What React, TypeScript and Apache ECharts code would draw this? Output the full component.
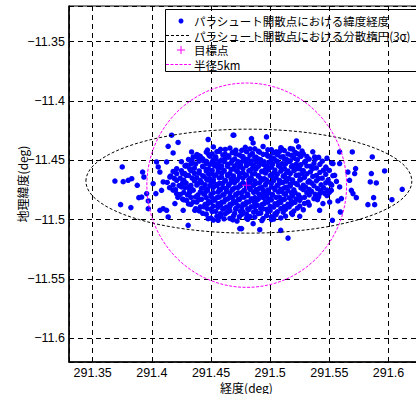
import { useEffect, useRef } from "react";
import * as echarts from "echarts";

// Axis ranges
const lonRange = [291.33, 291.63];
const latRange = [-11.62, -11.32];

// Legend labels
const legendLabels = [
  "パラシュート開散点における緯度経度",
  "パラシュート開散点における分散楕円(3σ)",
  "目標点",
  "半径5km",
];

// Dense core of parachute-opening points [lon, lat]
const corePoints: number[][] = [
  [291.452,-11.4388],[291.458,-11.4408],[291.466,-11.4397],[291.471,-11.4415],[291.479,-11.4391],[291.487,-11.4404],[291.494,-11.4384],[291.501,-11.4411],[291.509,-11.4394],[291.517,-11.4402],[291.524,-11.4387],
  [291.438,-11.4452],[291.446,-11.4431],[291.451,-11.4447],[291.457,-11.4426],[291.462,-11.4449],[291.468,-11.4435],[291.474,-11.4455],[291.480,-11.4428],[291.485,-11.4444],[291.491,-11.4432],[291.497,-11.4451],[291.503,-11.4437],[291.508,-11.4425],[291.515,-11.4448],[291.521,-11.4433],[291.528,-11.4446],[291.536,-11.4429],
  [291.431,-11.4493],[291.437,-11.4471],[291.443,-11.4488],[291.449,-11.4466],[291.454,-11.4484],[291.459,-11.4497],[291.465,-11.4474],[291.470,-11.4489],[291.476,-11.4468],[291.481,-11.4491],[291.487,-11.4477],[291.492,-11.4495],[291.498,-11.4465],[291.503,-11.4486],[291.509,-11.4472],[291.514,-11.4494],[291.520,-11.4479],[291.526,-11.4467],[291.533,-11.4490],[291.541,-11.4475],[291.548,-11.4483],
  [291.425,-11.4512],[291.433,-11.4531],[291.440,-11.4507],[291.446,-11.4526],[291.451,-11.4514],[291.456,-11.4535],[291.461,-11.4509],[291.467,-11.4523],[291.472,-11.4532],[291.477,-11.4506],[291.483,-11.4528],[291.488,-11.4513],[291.494,-11.4534],[291.499,-11.4518],[291.505,-11.4505],[291.510,-11.4529],[291.516,-11.4511],[291.522,-11.4533],[291.529,-11.4516],[291.537,-11.4527],[291.544,-11.4508],[291.552,-11.4524],
  [291.421,-11.4571],[291.429,-11.4549],[291.436,-11.4566],[291.443,-11.4553],[291.448,-11.4574],[291.453,-11.4547],[291.458,-11.4562],[291.464,-11.4551],[291.469,-11.4573],[291.474,-11.4556],[291.480,-11.4545],[291.485,-11.4568],[291.490,-11.4552],[291.496,-11.4575],[291.501,-11.4558],[291.507,-11.4546],[291.512,-11.4569],[291.518,-11.4554],[291.525,-11.4572],[291.531,-11.4548],[291.539,-11.4565],[291.547,-11.4557],
  [291.418,-11.4594],[291.426,-11.4612],[291.433,-11.4587],[291.440,-11.4608],[291.446,-11.4591],[291.451,-11.4614],[291.456,-11.4598],[291.461,-11.4585],[291.466,-11.4611],[291.472,-11.4593],[291.477,-11.4606],[291.482,-11.4589],[291.487,-11.4613],[291.493,-11.4596],[291.498,-11.4584],[291.503,-11.4609],[291.509,-11.4592],[291.514,-11.4605],[291.520,-11.4588],[291.527,-11.4611],[291.534,-11.4597],[291.542,-11.4603],[291.550,-11.4586],
  [291.416,-11.4632],[291.424,-11.4651],[291.431,-11.4628],[291.438,-11.4647],[291.444,-11.4635],[291.449,-11.4654],[291.454,-11.4626],[291.459,-11.4643],[291.464,-11.4631],[291.469,-11.4652],[291.474,-11.4638],[291.479,-11.4625],[291.484,-11.4649],[291.490,-11.4633],[291.495,-11.4655],[291.500,-11.4629],[291.505,-11.4646],[291.511,-11.4634],[291.516,-11.4653],[291.522,-11.4627],[291.529,-11.4644],[291.536,-11.4636],[291.544,-11.4651],[291.553,-11.4630],
  [291.413,-11.4687],[291.421,-11.4669],[291.429,-11.4692],[291.436,-11.4674],[291.442,-11.4689],[291.447,-11.4666],[291.452,-11.4684],[291.457,-11.4695],[291.462,-11.4671],[291.467,-11.4686],[291.472,-11.4665],[291.477,-11.4691],[291.483,-11.4677],[291.488,-11.4694],[291.493,-11.4668],[291.498,-11.4683],[291.503,-11.4672],[291.508,-11.4693],[291.514,-11.4676],[291.519,-11.4688],[291.525,-11.4667],[291.532,-11.4685],[291.539,-11.4673],[291.547,-11.4690],[291.556,-11.4678],
  [291.415,-11.4731],[291.423,-11.4713],[291.431,-11.4728],[291.438,-11.4709],[291.444,-11.4734],[291.449,-11.4716],[291.455,-11.4705],[291.460,-11.4729],[291.465,-11.4712],[291.470,-11.4733],[291.475,-11.4707],[291.480,-11.4724],[291.485,-11.4714],[291.491,-11.4735],[291.496,-11.4708],[291.501,-11.4726],[291.506,-11.4711],[291.512,-11.4732],[291.517,-11.4717],[291.523,-11.4706],[291.530,-11.4727],[291.537,-11.4715],[291.545,-11.4730],[291.552,-11.4710],
  [291.418,-11.4752],[291.427,-11.4771],[291.434,-11.4748],[291.441,-11.4767],[291.447,-11.4754],[291.452,-11.4773],[291.457,-11.4746],[291.463,-11.4762],[291.468,-11.4751],[291.473,-11.4775],[291.478,-11.4757],[291.483,-11.4745],[291.489,-11.4769],[291.494,-11.4753],[291.499,-11.4774],[291.504,-11.4749],[291.510,-11.4765],[291.515,-11.4756],[291.521,-11.4772],[291.528,-11.4747],[291.535,-11.4763],[291.543,-11.4755],[291.550,-11.4770],
  [291.422,-11.4812],[291.430,-11.4791],[291.437,-11.4809],[291.444,-11.4786],[291.450,-11.4804],[291.455,-11.4815],[291.460,-11.4793],[291.466,-11.4807],[291.471,-11.4788],[291.476,-11.4811],[291.481,-11.4796],[291.487,-11.4814],[291.492,-11.4789],[291.497,-11.4805],[291.502,-11.4794],[291.508,-11.4813],[291.513,-11.4787],[291.519,-11.4802],[291.526,-11.4816],[291.533,-11.4792],[291.541,-11.4808],[291.548,-11.4797],
  [291.427,-11.4833],[291.435,-11.4851],[291.442,-11.4829],[291.448,-11.4847],[291.453,-11.4836],[291.459,-11.4854],[291.464,-11.4827],[291.469,-11.4845],[291.474,-11.4831],[291.480,-11.4852],[291.485,-11.4838],[291.490,-11.4826],[291.496,-11.4849],[291.501,-11.4834],[291.507,-11.4855],[291.512,-11.4830],[291.518,-11.4846],[291.525,-11.4837],[291.532,-11.4853],[291.540,-11.4832],
  [291.433,-11.4872],[291.441,-11.4893],[291.447,-11.4868],[291.452,-11.4887],[291.458,-11.4875],[291.463,-11.4894],[291.468,-11.4866],[291.473,-11.4884],[291.479,-11.4871],[291.484,-11.4892],[291.489,-11.4878],[291.495,-11.4865],[291.500,-11.4889],[291.506,-11.4874],[291.512,-11.4891],[291.518,-11.4869],[291.525,-11.4886],[291.533,-11.4877],
  [291.440,-11.4927],[291.447,-11.4908],[291.454,-11.4931],[291.460,-11.4912],[291.466,-11.4925],[291.471,-11.4906],[291.477,-11.4933],[291.482,-11.4915],[291.488,-11.4929],[291.494,-11.4910],[291.500,-11.4924],[291.506,-11.4935],[291.513,-11.4913],[291.520,-11.4928],[291.528,-11.4917],
  [291.446,-11.4954],[291.455,-11.4972],[291.462,-11.4951],[291.469,-11.4968],[291.476,-11.4956],[291.483,-11.4974],[291.490,-11.4949],[291.497,-11.4966],[291.505,-11.4958],[291.513,-11.4971],
  [291.452,-11.5004],[291.461,-11.4993],[291.472,-11.5012],[291.481,-11.4997],[291.493,-11.5008],[291.503,-11.4995],
];

// Second layer of core points, between the rows above [lon, lat]
const corePoints2: number[][] = [
  [291.447,-11.4414],[291.455,-11.4427],[291.462,-11.4409],[291.469,-11.4431],[291.476,-11.4416],[291.483,-11.4405],[291.490,-11.4424],[291.498,-11.4412],[291.505,-11.4429],[291.512,-11.4418],[291.519,-11.4406],[291.527,-11.4423],
  [291.441,-11.4467],[291.448,-11.4452],[291.454,-11.4471],[291.460,-11.4455],[291.465,-11.4463],[291.471,-11.4448],[291.477,-11.4469],[291.483,-11.4457],[291.488,-11.4473],[291.494,-11.4450],[291.500,-11.4466],[291.506,-11.4454],[291.511,-11.4470],[291.518,-11.4459],[291.524,-11.4449],[291.531,-11.4468],
  [291.434,-11.4506],[291.440,-11.4491],[291.446,-11.4509],[291.452,-11.4494],[291.457,-11.4512],[291.462,-11.4488],[291.468,-11.4503],[291.473,-11.4511],[291.479,-11.4492],[291.484,-11.4507],[291.490,-11.4489],[291.495,-11.4513],[291.501,-11.4497],[291.506,-11.4510],[291.512,-11.4490],[291.517,-11.4505],[291.523,-11.4495],[291.530,-11.4508],[291.538,-11.4493],
  [291.428,-11.4547],[291.437,-11.4532],[291.443,-11.4550],[291.449,-11.4536],[291.454,-11.4529],[291.459,-11.4548],[291.464,-11.4533],[291.470,-11.4551],[291.475,-11.4538],[291.480,-11.4527],[291.486,-11.4545],[291.491,-11.4531],[291.497,-11.4549],[291.502,-11.4535],[291.508,-11.4552],[291.513,-11.4530],[291.519,-11.4546],[291.526,-11.4537],[291.534,-11.4551],[291.542,-11.4534],
  [291.425,-11.4588],[291.432,-11.4572],[291.440,-11.4590],[291.446,-11.4575],[291.451,-11.4586],[291.456,-11.4569],[291.461,-11.4591],[291.467,-11.4577],[291.472,-11.4589],[291.477,-11.4571],[291.483,-11.4585],[291.488,-11.4574],[291.493,-11.4592],[291.499,-11.4568],[291.504,-11.4583],[291.510,-11.4576],[291.515,-11.4590],[291.522,-11.4573],[291.528,-11.4587],[291.536,-11.4570],[291.545,-11.4584],
  [291.421,-11.4613],[291.429,-11.4628],[291.436,-11.4610],[291.443,-11.4631],[291.448,-11.4616],[291.453,-11.4627],[291.459,-11.4609],[291.464,-11.4622],[291.469,-11.4632],[291.474,-11.4611],[291.480,-11.4626],[291.485,-11.4615],[291.490,-11.4630],[291.496,-11.4608],[291.501,-11.4624],[291.506,-11.4617],[291.512,-11.4629],[291.517,-11.4612],[291.524,-11.4625],[291.531,-11.4614],[291.539,-11.4628],[291.547,-11.4618],
  [291.419,-11.4653],[291.427,-11.4668],[291.434,-11.4650],[291.441,-11.4671],[291.446,-11.4656],[291.452,-11.4664],[291.457,-11.4649],[291.462,-11.4672],[291.467,-11.4657],[291.472,-11.4669],[291.477,-11.4651],[291.482,-11.4663],[291.487,-11.4674],[291.492,-11.4652],[291.497,-11.4667],[291.503,-11.4655],[291.508,-11.4670],[291.513,-11.4648],[291.519,-11.4666],[291.526,-11.4659],[291.533,-11.4673],[291.541,-11.4654],[291.549,-11.4665],
  [291.418,-11.4708],[291.426,-11.4691],[291.433,-11.4712],[291.439,-11.4695],[291.445,-11.4706],[291.450,-11.4689],[291.455,-11.4711],[291.460,-11.4693],[291.465,-11.4704],[291.470,-11.4688],[291.475,-11.4713],[291.481,-11.4697],[291.486,-11.4709],[291.491,-11.4690],[291.496,-11.4705],[291.501,-11.4694],[291.506,-11.4712],[291.511,-11.4687],[291.517,-11.4703],[291.522,-11.4696],[291.528,-11.4710],[291.535,-11.4692],[291.543,-11.4707],[291.551,-11.4698],
  [291.420,-11.4748],[291.428,-11.4731],[291.435,-11.4752],[291.442,-11.4735],[291.447,-11.4746],[291.452,-11.4729],[291.458,-11.4751],[291.463,-11.4737],[291.468,-11.4745],[291.473,-11.4728],[291.478,-11.4753],[291.483,-11.4734],[291.488,-11.4747],[291.493,-11.4730],[291.498,-11.4750],[291.504,-11.4736],[291.509,-11.4744],[291.514,-11.4727],[291.520,-11.4749],[291.526,-11.4733],[291.533,-11.4746],[291.540,-11.4738],[291.548,-11.4751],
  [291.424,-11.4788],[291.432,-11.4771],[291.439,-11.4792],[291.445,-11.4774],[291.450,-11.4786],[291.456,-11.4769],[291.461,-11.4790],[291.466,-11.4776],[291.471,-11.4793],[291.476,-11.4772],[291.481,-11.4785],[291.486,-11.4770],[291.491,-11.4791],[291.496,-11.4777],[291.502,-11.4789],[291.507,-11.4768],[291.512,-11.4784],[291.518,-11.4775],[291.524,-11.4792],[291.531,-11.4773],[291.538,-11.4787],[291.546,-11.4779],
  [291.426,-11.4827],[291.433,-11.4812],[291.440,-11.4831],[291.446,-11.4815],[291.452,-11.4826],[291.457,-11.4810],[291.462,-11.4832],[291.468,-11.4817],[291.473,-11.4829],[291.478,-11.4811],[291.484,-11.4825],[291.489,-11.4833],[291.494,-11.4814],[291.499,-11.4828],[291.505,-11.4813],[291.510,-11.4830],[291.516,-11.4816],[291.522,-11.4827],[291.529,-11.4812],[291.537,-11.4824],
  [291.431,-11.4868],[291.438,-11.4852],[291.445,-11.4871],[291.450,-11.4855],[291.456,-11.4866],[291.461,-11.4850],[291.466,-11.4872],[291.471,-11.4857],[291.477,-11.4869],[291.482,-11.4851],[291.487,-11.4865],[291.493,-11.4873],[291.498,-11.4853],[291.504,-11.4867],[291.509,-11.4856],[291.515,-11.4870],[291.521,-11.4854],[291.529,-11.4864],
  [291.437,-11.4908],[291.444,-11.4892],[291.450,-11.4911],[291.456,-11.4895],[291.461,-11.4906],[291.466,-11.4890],[291.471,-11.4912],[291.476,-11.4896],[291.481,-11.4909],[291.487,-11.4891],[291.492,-11.4905],[291.497,-11.4913],[291.503,-11.4894],[291.509,-11.4907],[291.516,-11.4893],[291.523,-11.4904],
  [291.443,-11.4947],[291.451,-11.4932],[291.458,-11.4950],[291.464,-11.4936],[291.470,-11.4948],[291.475,-11.4931],[291.480,-11.4952],[291.486,-11.4937],[291.492,-11.4946],[291.498,-11.4933],[291.504,-11.4951],[291.511,-11.4938],[291.518,-11.4945],
  [291.450,-11.4987],[291.458,-11.4973],[291.466,-11.4990],[291.474,-11.4976],[291.480,-11.4988],[291.487,-11.4979],[291.494,-11.4991],[291.501,-11.4977],[291.509,-11.4986],
];

// Scattered outer points [lon, lat]
const outerPoints: number[][] = [
  [291.3688,-11.4675],[291.375,-11.4556],[291.3758,-11.468],[291.380,-11.4669],[291.383,-11.4655],
  [291.3736,-11.4874],[291.3823,-11.4899],[291.3877,-11.4711],[291.389,-11.4815],[291.3914,-11.481],
  [291.3922,-11.4599],[291.3933,-11.4641],[291.397,-11.4843],[291.397,-11.4908],[291.3956,-11.4781],
  [291.4011,-11.4696],[291.4034,-11.4781],[291.4054,-11.4556],[291.404,-11.4514],[291.4068,-11.4922],
  [291.4096,-11.4908],[291.4138,-11.4978],[291.4125,-11.4922],[291.4167,-11.4289],[291.4138,-11.4382],
  [291.418,-11.4438],[291.4222,-11.435],[291.4125,-11.4514],[291.4068,-11.4599],[291.4096,-11.4683],
  [291.4082,-11.4753],[291.4152,-11.4641],[291.4209,-11.4781],[291.4195,-11.4865],[291.4307,-11.5048],
  [291.4476,-11.4325],[291.4476,-11.4992],[291.456,-11.5006],[291.4687,-11.4289],[291.4682,-11.5],
  [291.4743,-11.5076],[291.4336,-11.443],[291.4293,-11.4542],[291.4279,-11.4612],[291.4251,-11.4725],
  [291.4293,-11.4837],[291.4265,-11.4922],[291.4363,-11.4922],[291.4321,-11.4753],[291.4349,-11.4472],
  [291.4391,-11.4458],[291.4433,-11.45],
  [291.4693,-11.4289],[291.4842,-11.4317],[291.4969,-11.4303],[291.5222,-11.4337],[291.4856,-11.4354],
  [291.5587,-11.443],[291.5694,-11.443],[291.5863,-11.4472],[291.5967,-11.459],[291.6116,-11.4745],
  [291.6029,-11.4832],[291.5874,-11.4815],[291.5883,-11.4874],[291.5826,-11.4874],[291.5855,-11.4612],
  [291.5846,-11.4683],[291.5897,-11.4691],[291.5722,-11.457],[291.5714,-11.4612],[291.5657,-11.4599],
  [291.5671,-11.4669],[291.5686,-11.4753],[291.5728,-11.4815],[291.570,-11.4781],[291.5602,-11.4823],
  [291.5593,-11.4936],[291.5573,-11.4843],[291.5526,-11.5006],[291.5503,-11.4852],[291.5418,-11.4922],
  [291.5446,-11.4865],[291.525,-11.4972],[291.5188,-11.4956],[291.5151,-11.5156],[291.5089,-11.5091],
  [291.5011,-11.5],[291.4912,-11.5085],[291.4856,-11.5034],[291.4758,-11.5076],[291.4687,-11.5],
  [291.5587,-11.4528],[291.5531,-11.4528],[291.5376,-11.4472],[291.5475,-11.457],[291.5545,-11.4627],
  [291.5587,-11.4725],[291.5517,-11.4753],[291.5418,-11.4781],[291.5222,-11.4443],[291.5095,-11.4401],
  [291.5235,-11.4542],
];

// Target point
const targetPoint = [291.48, -11.471];
// 3-sigma dispersion ellipse: [centerLon, centerLat, semiLon, semiLat]
const sigmaEllipse = [291.482, -11.4676, 0.1377, 0.0438];
// 5 km radius circle: [centerLon, centerLat, radiusLon, radiusLat]
const radiusCircle = [291.4802, -11.471, 0.0844, 0.0861];

const BLUE = "#0000ff";
const MAGENTA = "#ff00ff";
const NUM_FONT = "'Liberation Sans Narrow', 'Liberation Sans', Arial, sans-serif";
const JP_FONT = "'Noto Sans CJK JP', 'Noto Sans', sans-serif";

const ellipseRender = (stroke: string, dash: number[]) => (params: any, api: any) => {
  const c = api.coord([api.value(0), api.value(1)]);
  const s = api.size([api.value(2), api.value(3)]);
  return {
    type: "ellipse",
    shape: { cx: c[0], cy: c[1], rx: s[0], ry: s[1] },
    style: { fill: "none", stroke, lineWidth: 1, lineDash: dash },
  };
};

const fmt = (v: number) => {
  const a = +Math.abs(v).toFixed(3);
  return (v < 0 ? "−" : "") + String(a);
};

export default function App() {
  const ref = useRef<HTMLDivElement>(null);
  useEffect(() => {
    if (!ref.current) return;
    const chart = echarts.init(ref.current, undefined, { renderer: "svg" });
    const rowY = [21, 35.5, 50, 64.5];
    const legendX = 194;
    const axisLabel = {
      color: "#000",
      fontSize: 12.5,
      lineHeight: 13,
      fontFamily: NUM_FONT,
      margin: 4,
      showMinLabel: false,
      showMaxLabel: false,
      formatter: fmt,
    };
    chart.setOption({
      animation: false,
      backgroundColor: "#fff",
      grid: {
        left: 69,
        top: 6,
        right: -8,
        bottom: 32,
        outerBoundsMode: "none",
        containLabel: false,
        show: true,
        borderColor: "#000",
        borderWidth: 1,
        backgroundColor: "transparent",
      },
      xAxis: {
        type: "value",
        min: lonRange[0],
        max: lonRange[1],
        splitNumber: 6,
        name: "経度(deg)",
        nameLocation: "middle",
        nameGap: 18.5,
        nameMoveOverlap: false,
        nameTextStyle: {
          fontFamily: JP_FONT,
          fontSize: 12,
          lineHeight: 13,
          color: "#000",
          verticalAlign: "top",
        },
        axisLine: { show: true, onZero: false, lineStyle: { color: "#000", width: 1.5 } },
        axisTick: { show: false },
        axisLabel,
        splitLine: { show: true, lineStyle: { color: "#000", type: [5, 4], width: 1 } },
      },
      yAxis: {
        type: "value",
        min: latRange[0],
        max: latRange[1],
        splitNumber: 6,
        name: "地理緯度(deg)",
        nameLocation: "middle",
        nameGap: 41,
        nameMoveOverlap: false,
        nameTextStyle: { fontFamily: JP_FONT, fontSize: 12, color: "#000" },
        axisLine: { show: true, onZero: false, lineStyle: { color: "#000", width: 1.5 } },
        axisTick: { show: false },
        axisLabel,
        splitLine: { show: true, lineStyle: { color: "#000", type: [5, 4], width: 1 } },
      },
      series: [
        {
          type: "scatter",
          name: legendLabels[0],
          data: [...corePoints, ...corePoints2, ...outerPoints],
          symbol: "circle",
          symbolSize: 5.5,
          itemStyle: { color: BLUE, opacity: 1 },
          z: 2,
        },
        {
          type: "custom",
          name: legendLabels[1],
          data: [sigmaEllipse],
          dimensions: ["x", "y", "rx", "ry"],
          encode: { x: 0, y: 1 },
          renderItem: ellipseRender("#000", [3, 2]),
          z: 3,
        },
        {
          type: "custom",
          name: legendLabels[3],
          data: [radiusCircle],
          dimensions: ["x", "y", "rx", "ry"],
          encode: { x: 0, y: 1 },
          renderItem: ellipseRender(MAGENTA, [3, 1.5]),
          z: 3,
        },
        {
          type: "scatter",
          name: legendLabels[2],
          data: [targetPoint],
          symbol: "path://M-0.1,-1H0.1V-0.1H1V0.1H0.1V1H-0.1V0.1H-1V-0.1H-0.1Z",
          symbolSize: 9,
          itemStyle: { color: MAGENTA },
          z: 4,
        },
      ],
      graphic: [
        {
          type: "group",
          z: 100,
          children: [
            {
              type: "rect",
              shape: { x: 165.5, y: 9.5, width: 280, height: 62 },
              style: { fill: "#fff", stroke: "#000", lineWidth: 1 },
            },
            { type: "circle", shape: { cx: 181, cy: rowY[0], r: 2.5 }, style: { fill: BLUE } },
            {
              type: "line",
              shape: { x1: 166, y1: rowY[1], x2: 191, y2: rowY[1] },
              style: { stroke: "#000", lineWidth: 1, lineDash: [3, 2] },
            },
            {
              type: "line",
              shape: { x1: 177, y1: rowY[2], x2: 185, y2: rowY[2] },
              style: { stroke: MAGENTA, lineWidth: 1 },
            },
            {
              type: "line",
              shape: { x1: 181, y1: rowY[2] - 4, x2: 181, y2: rowY[2] + 4 },
              style: { stroke: MAGENTA, lineWidth: 1 },
            },
            {
              type: "line",
              shape: { x1: 166, y1: rowY[3], x2: 191, y2: rowY[3] },
              style: { stroke: MAGENTA, lineWidth: 1, lineDash: [3, 1.5] },
            },
            ...legendLabels.map((t, i) => ({
              type: "text",
              x: legendX,
              y: rowY[i],
              style: {
                text: t,
                fill: "#000",
                fontSize: 11.5,
                fontFamily: JP_FONT,
                verticalAlign: "middle",
                align: "left",
              },
            })),
          ],
        },
      ],
    });
    return () => chart.dispose();
  }, []);
  return (
    <div
      ref={ref}
      style={{ position: "absolute", left: 0, top: 0, width: 416, height: 394, overflow: "hidden" }}
    />
  );
}
